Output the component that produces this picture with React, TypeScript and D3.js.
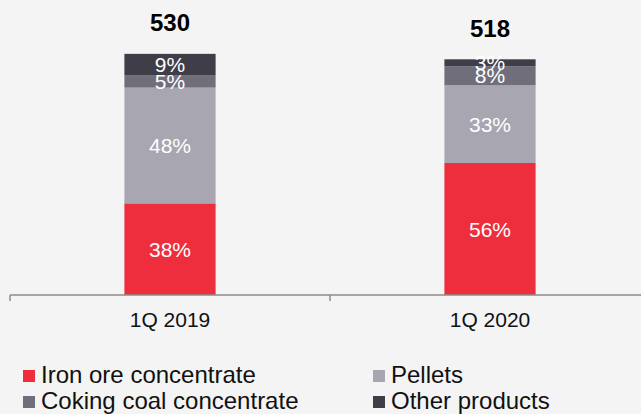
import React from 'react';
import * as d3 from 'd3';

// quarter totals and product shares (%)
const categories = ['1Q 2019', '1Q 2020'];
const totals = [530, 518];
const ironOre = [38, 56];
const pellets = [48, 33];
const cokingCoal = [5, 8];
const otherProducts = [9, 3];

const seriesNames = ['Iron ore concentrate', 'Pellets', 'Coking coal concentrate', 'Other products'];
const seriesKeys = ['iron', 'pellets', 'coking', 'other'];
const colors = ['#ee2e3d', '#a7a6b1', '#6f6e7a', '#3e3d48'];

const width = 641;
const height = 414;
const baseY = 295;

export default function App() {
  const rows = categories.map((c, i) => ({
    cat: c,
    total: totals[i],
    iron: (totals[i] * ironOre[i]) / 100,
    pellets: (totals[i] * pellets[i]) / 100,
    coking: (totals[i] * cokingCoal[i]) / 100,
    other: (totals[i] * otherProducts[i]) / 100,
    shares: [ironOre[i], pellets[i], cokingCoal[i], otherProducts[i]],
  }));

  const x = d3.scaleBand().domain(categories).range([10, 650]);
  const y = d3.scaleLinear().domain([0, 600]).range([baseY, 22]);
  const barW = x.bandwidth() * 0.285;

  const stacked = d3.stack<any>().keys(seriesKeys)(rows);

  const tickXs = [...categories.map((c) => x(c) as number), x.range()[1]];

  return (
    <>
      <style>{'body{margin:0}'}</style>
      <svg width={width} height={height} style={{ display: 'block', background: '#f4f4f4' }}
        fontFamily="'Liberation Sans', Arial, sans-serif">
        {stacked.map((s, si) => (
          <g key={s.key} fill={colors[si]}>
            {s.map((d) => {
              const cx = (x(d.data.cat) as number) + x.bandwidth() / 2;
              return (
                <rect key={d.data.cat} x={cx - barW / 2} y={y(d[1])} width={barW}
                  height={y(d[0]) - y(d[1])} />
              );
            })}
          </g>
        ))}
        {stacked.map((s, si) => (
          <g key={'l' + s.key} fill="#ffffff" fontSize={21} textAnchor="middle">
            {s.map((d) => {
              const cx = (x(d.data.cat) as number) + x.bandwidth() / 2;
              return (
                <text key={d.data.cat} x={cx} y={(y(d[0]) + y(d[1])) / 2} dy="0.36em">
                  {d.data.shares[si]}%
                </text>
              );
            })}
          </g>
        ))}
        {rows.map((r) => (
          <text key={'t' + r.cat} x={(x(r.cat) as number) + x.bandwidth() / 2} y={y(r.total) - 22.5}
            textAnchor="middle" fontSize={24} fontWeight="bold" fill="#000">
            {r.total}
          </text>
        ))}
        <line x1={10} x2={width} y1={baseY} y2={baseY} stroke="#8c8c8c" strokeWidth={1.5} />
        {tickXs.map((t) => (
          <line key={t} x1={t} x2={t} y1={baseY} y2={baseY + 6} stroke="#8c8c8c" strokeWidth={1.5} />
        ))}
        {categories.map((c) => (
          <text key={c} x={(x(c) as number) + x.bandwidth() / 2} y={327} textAnchor="middle"
            fontSize={21} fill="#111">
            {c}
          </text>
        ))}
        {seriesNames.map((n, i) => {
          const lx = i % 2 === 0 ? 23 : 373;
          const ly = i < 2 ? 383 : 409;
          return (
            <g key={n}>
              <rect x={lx} y={ly - 13} width={12} height={12} fill={colors[i]} />
              <text x={lx + 18} y={ly} fontSize={24} fill="#111">{n}</text>
            </g>
          );
        })}
      </svg>
    </>
  );
}
